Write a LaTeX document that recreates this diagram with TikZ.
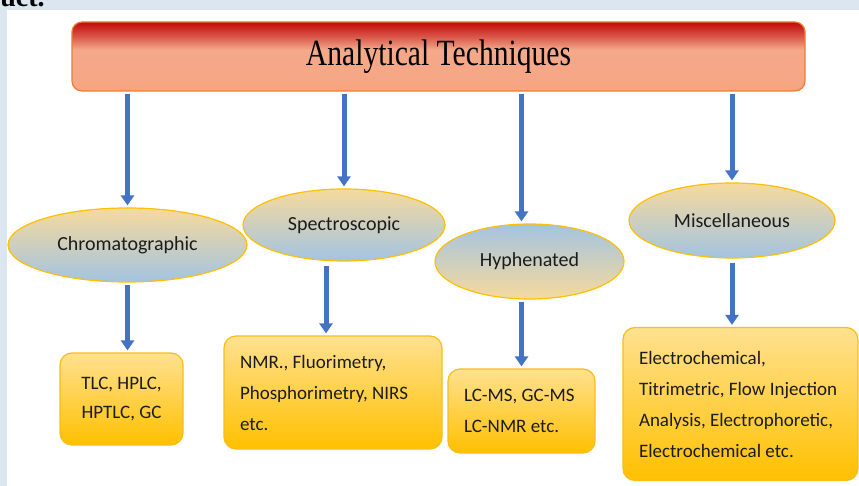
\documentclass[tikz,border=0pt]{standalone}
\usepackage{fontspec}
\setmainfont{Carlito}
\newfontfamily\titrefont{Liberation Serif}
\usetikzlibrary{shapes.geometric,arrows.meta}

\definecolor{fondbleu}{HTML}{DCE6F1}
\definecolor{bleufleche}{HTML}{4472C4}
\definecolor{rougefonce}{HTML}{C00A0A}
\definecolor{rougemoyen}{HTML}{DA5A4C}
\definecolor{saumon}{HTML}{F4A98A}
\definecolor{saumonbas}{HTML}{F6A582}
\definecolor{bordorange}{HTML}{ED7D31}
\definecolor{jauneclair}{HTML}{F6DA9C}
\definecolor{bleuclair}{HTML}{A3C3E2}
\definecolor{orclair}{HTML}{FFE190}
\definecolor{or}{HTML}{FFC000}
\definecolor{bordor}{HTML}{F7BE1A}
\definecolor{texte}{HTML}{1C1C1C}

\pgfdeclareverticalshading{titrefond}{100bp}{color(0bp)=(saumonbas); color(25bp)=(saumonbas);
  color(55bp)=(saumon); color(64bp)=(rougemoyen); color(75bp)=(rougefonce); color(100bp)=(rougefonce)}

\tikzset{
  titre/.style={draw=bordorange, line width=0.6pt, rounded corners=5pt, shading=titrefond,
    minimum width=366.5pt, minimum height=34.5pt, inner sep=0pt, text=black,
    font=\titrefont\fontsize{18.5}{20}\selectfont},
  famille/.style={ellipse, draw=or, line width=0.6pt, inner sep=0pt, text=texte,
    top color=jauneclair, bottom color=bleuclair, font=\fontsize{10}{12}\selectfont},
  familleinv/.style={famille, top color=bleuclair, bottom color=jauneclair},
  liste/.style={draw=bordor, line width=0.6pt, rounded corners=6pt, text=texte,
    top color=orclair, bottom color=or, inner xsep=8pt, align=flush left,
    font=\fontsize{9.5}{15.5}\selectfont},
  fleche/.style={bleufleche, line width=2.5pt, -{Triangle[width=6.5pt,length=5pt]},
    shorten <=1pt, shorten >=1pt},
}

\begin{document}
\begin{tikzpicture}[x=0.5pt, y=-0.5pt]
		% Fond
		\useasboundingbox (0,0) rectangle (859,486);
		\fill[fondbleu] (0,0) rectangle (859,486);
		\fill[white] (7,10) rectangle (859,486);
		\node[anchor=base west, inner sep=0pt, font=\titrefont\bfseries\fontsize{14}{16}\selectfont] (bout) at (0,7) {uct.};

		% Création des nœuds
		\node[titre] (titre) at (438.5,56.5) {\scalebox{0.8}[1]{Analytical Techniques}};
		\node[famille, minimum width=119.5pt, minimum height=37pt] (chrom) at (127.5,245) {Chromatographic};
		\node[famille, minimum width=101pt, minimum height=36pt] (spec) at (344,225) {Spectroscopic};
		\node[familleinv, minimum width=94.5pt, minimum height=37.5pt] (hyph) at (529.5,261.5) {Hyphenated};
		\node[famille, minimum width=103pt, minimum height=37.5pt] (misc) at (732,220.5) {Miscellaneous};

		\node[liste, align=center, minimum width=61.5pt, minimum height=46pt, font=\fontsize{9.5}{14.5}\selectfont] (tlc) at (121.5,399) {TLC, HPLC,\\HPTLC, GC};
		\node[liste, text width=93pt, minimum height=56.5pt] (nmr) at (333,392.5) {NMR., Fluorimetry,\\Phosphorimetry, NIRS\\etc.};
		\node[liste, text width=57.5pt, minimum height=42pt] (lcms) at (521.5,411) {LC-MS, GC-MS\\LC-NMR etc.};
		\node[liste, inner xsep=8pt, text width=101.5pt, minimum height=76.5pt] (elec) at (740.5,404) {Electrochemical,\\Titrimetric, Flow Injection\\Analysis, Electrophoretic,\\Electrochemical etc.};

		% Flèches
		\draw[fleche] (titre.south -| chrom) -- (chrom.north);
		\draw[fleche] (titre.south -| spec) -- (spec.north);
		\draw[fleche] (titre.south -| lcms) -- (lcms |- hyph.north);
		\draw[fleche] (titre.south -| misc) -- (misc.north);
		\draw[fleche] (chrom.south) -- (chrom.south |- tlc.north);
		\draw[fleche, shorten <=2pt] ([xshift=-9pt]spec.south) -- ([xshift=-9pt]spec.south |- nmr.north);
		\draw[fleche] (lcms |- hyph.south) -- (lcms.north);
		\draw[fleche, shorten <=2pt] (misc.south) -- (misc.south |- elec.north);
	\end{tikzpicture}
\end{document}
